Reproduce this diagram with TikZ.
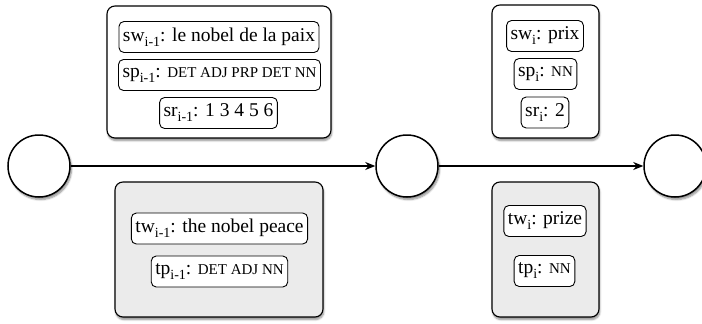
\documentclass[tikz,border=0pt]{standalone}
\usepackage{fontspec}
\setmainfont{Liberation Serif}
\usetikzlibrary{arrows.meta,shadows.blur}

% subscript index and small tag text
\newcommand{\idx}[1]{\raisebox{-5pt}{\fontsize{14}{14}\selectfont #1}}
\newcommand{\tagtxt}[1]{{\fontsize{15}{15}\selectfont #1}}

\tikzset{
  x=1pt, y=-1pt,
  state/.style={circle, draw, line width=1.5pt, fill=white, minimum size=62pt, inner sep=0pt,
    blur shadow={shadow xshift=1.5pt, shadow yshift=-2.5pt, shadow blur steps=6, shadow opacity=45}},
  panel/.style={draw, line width=1.1pt, rounded corners=8pt, inner sep=0pt,
    blur shadow={shadow xshift=0.8pt, shadow yshift=-2.5pt, shadow blur steps=6, shadow opacity=45}},
  srcpanel/.style={panel, fill=white},
  tgtpanel/.style={panel, fill=black!8},
  field/.style={draw, line width=0.9pt, rounded corners=5pt, fill=white, minimum height=31pt,
    inner xsep=4pt, inner ysep=0pt, font=\fontsize{19.5}{19.5}\selectfont},
  link/.style={line width=1.1pt, -{Stealth[length=10pt,width=8pt]}}
}

\begin{document}
\begin{tikzpicture}
\useasboundingbox (0,0) rectangle (702,324);

% hidden states
\node[state] (s0) at (39,166) {};
\node[state] (s1) at (407,166) {};
\node[state] (s2) at (675,166) {};

% source and target panels
\node[srcpanel, minimum width=224pt, minimum height=132pt] (src0) at (219,72) {};
\node[tgtpanel, minimum width=208pt, minimum height=135pt] (tgt0) at (219,249.5) {};
\node[srcpanel, minimum width=107pt, minimum height=133pt] (src1) at (545.5,71.5) {};
\node[tgtpanel, minimum width=107pt, minimum height=135pt] (tgt1) at (545.5,249.5) {};

% fields of step i-1
\node[field] (sw0) at (219,37) {sw\idx{i-1}: le nobel de la paix};
\node[field] (sp0) at (219.5,75) {sp\idx{i-1}: \tagtxt{DET ADJ PRP DET NN}};
\node[field] (sr0) at (218.5,113) {sr\idx{i-1}: 1 3 4 5 6};
\node[field] (tw0) at (219.5,228.5) {tw\idx{i-1}: the nobel peace};
\node[field] (tp0) at (219.5,271.5) {tp\idx{i-1}: \tagtxt{DET ADJ NN}};

% fields of step i
\node[field] (sw1) at (545,36) {sw\idx{i}: prix};
\node[field] (sp1) at (545.5,74) {sp\idx{i}: \tagtxt{NN}};
\node[field] (sr1) at (545,112.5) {sr\idx{i}: 2};
\node[field] (tw1) at (545,221) {tw\idx{i}: prize};
\node[field] (tp1) at (544.5,271) {tp\idx{i}: \tagtxt{NN}};

% transitions
\draw[link] (s0) -- (s1);
\draw[link] (s1) -- (s2);
\end{tikzpicture}
\end{document}
